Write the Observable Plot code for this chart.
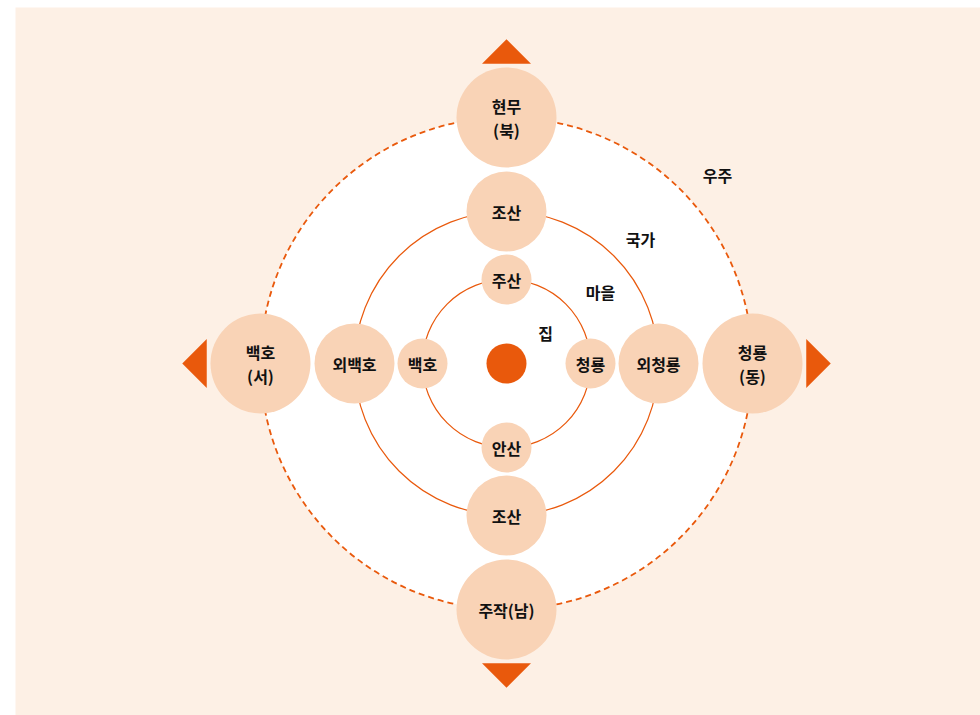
<!DOCTYPE html>
<html><head><meta charset="utf-8">
<script src="https://cdn.jsdelivr.net/npm/d3@7"></script>
<script src="https://cdn.jsdelivr.net/npm/@observablehq/plot@0.6"></script>
<style>body{margin:0;background:#fff;} #chart svg{display:block}</style>
</head><body><div id="chart"></div>
<script>
// Directions, clockwise from north (degrees)
const directions = ["북", "동", "남", "서"];
const angles = [0, 90, 180, 270];
// Bubble names per level (north, east, south, west)
const innerNames = ["주산", "청룡", "안산", "백호"];
const middleNames = ["조산", "외청룡", "조산", "외백호"];
const outerNames = ["현무\n(북)", "청룡\n(동)", "주작(남)", "백호\n(서)"];
// Ring radii (data units) and bubble sizes per level
const ringNames = ["마을", "국가", "우주"];
const ringRadii = [84, 152, 246];
const bubbleRadii = [25, 40, 50];
// Ring labels and their positions (data units relative to the house)
const ringLabels = ["집", "마을", "국가", "우주"];
const ringLabelX = [39, 94, 134, 211];
const ringLabelY = [29, 70, 123, 187];
const arrowDistance = 312;

const ORANGE = "#e9590c", BUBBLE = "#f9d3b6", PANEL = "#fdf0e5";

const levels = [innerNames, middleNames, outerNames];
const bubbles = [];
levels.forEach((names, i) => names.forEach((name, j) => {
  const a = angles[j] * Math.PI / 180;
  bubbles.push({name, level: i, x: ringRadii[i] * Math.sin(a), y: ringRadii[i] * Math.cos(a), r: bubbleRadii[i]});
}));
const rings = ringRadii.map((r, i) => ({name: ringNames[i], r, dashed: i === 2}));
const labels = ringLabels.map((t, i) => ({t, x: ringLabelX[i], y: ringLabelY[i]}));
const arrows = angles.map((deg, j) => {
  const a = deg * Math.PI / 180;
  return {dir: directions[j], x: arrowDistance * Math.sin(a), y: arrowDistance * Math.cos(a), rotate: deg};
});

const arrowSymbol = {
  draw(ctx, size) {
    const r = Math.sqrt(size / Math.PI);
    ctx.moveTo(0, -r / 2);
    ctx.lineTo(r, r / 2);
    ctx.lineTo(-r, r / 2);
    ctx.closePath();
  }
};

const chart = Plot.plot({
  width: 980, height: 715,
  marginTop: 0, marginRight: 0, marginBottom: 0, marginLeft: 0,
  x: {domain: [-506, 474], axis: null},
  y: {domain: [-352, 363], axis: null},
  r: {type: "identity"},
  style: {fontFamily: "'Noto Sans CJK KR', 'Noto Sans', sans-serif", background: "#fff"},
  marks: [
    Plot.frame({fill: PANEL, stroke: null, insetLeft: 15, insetTop: 7}),
    Plot.dot(rings.filter(d => d.dashed), {x: 0, y: 0, r: "r", fill: "#fff", stroke: ORANGE, strokeWidth: 1.8, strokeDasharray: "6,4"}),
    Plot.dot(rings.filter(d => !d.dashed), {x: 0, y: 0, r: "r", fill: "none", stroke: ORANGE, strokeWidth: 1.2}),
    Plot.dot([{r: 20}], {x: 0, y: 0, r: "r", fill: ORANGE}),
    Plot.dot(bubbles, {x: "x", y: "y", r: "r", fill: BUBBLE}),
    Plot.text(bubbles, {x: "x", y: "y", text: "name", fontSize: 16, fontWeight: "bold", fill: "#111", lineHeight: 1.45}),
    Plot.dot(arrows, {x: "x", y: "y", r: 24.5, rotate: "rotate", symbol: arrowSymbol, fill: ORANGE, stroke: null}),
    Plot.text(labels, {x: "x", y: "y", text: "t", fontSize: 16, fontWeight: "bold", fill: "#111"})
  ]
});
document.getElementById("chart").append(chart);
</script>
</body></html>
